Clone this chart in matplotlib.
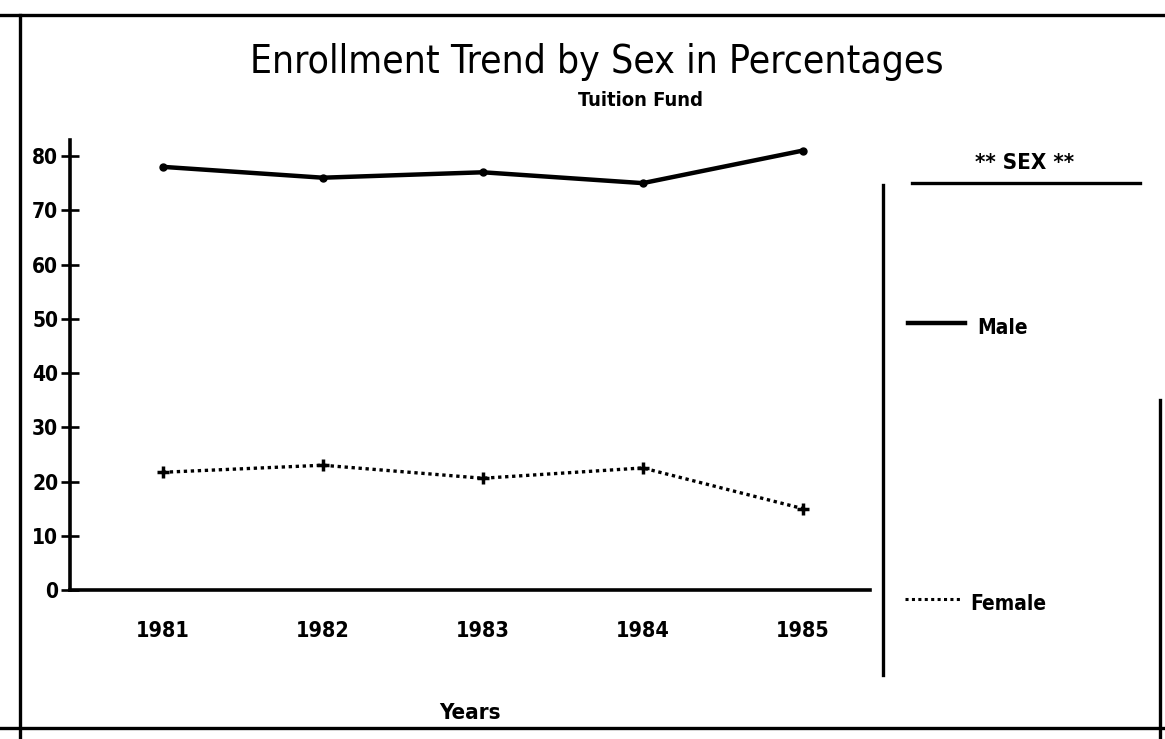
import matplotlib
matplotlib.use("Agg")
import matplotlib.pyplot as plt
from matplotlib.lines import Line2D
from matplotlib import font_manager

# ---- data ----
years = [1981, 1982, 1983, 1984, 1985]
male = [78.0, 76.0, 77.0, 75.0, 81.0]
female = [21.7, 23.0, 20.6, 22.5, 15.0]
y_ticks = [0, 10, 20, 30, 40, 50, 60, 70, 80]
title = "Enrollment Trend by Sex in Percentages"
subtitle = "Tuition Fund"
legend_title = "** SEX **"
series_names = ["Male", "Female"]
x_label = "Years"

names = {f.name for f in font_manager.fontManager.ttflist}
if "Liberation Sans Narrow" in names:
    FAM = "Liberation Sans Narrow"
    STRETCH = "normal"
else:
    FAM = "DejaVu Sans"
    STRETCH = "condensed"

W, H = 1165, 739
fig = plt.figure(figsize=(W / 100, H / 100), dpi=100)
fig.patch.set_facecolor("white")


def fx(px):
    return px / W


def fy(py):
    return 1 - py / H


ax = fig.add_axes([fx(70), fy(590), fx(870) - fx(70), fy(140) - fy(590)])
ax.set_xlim(1980.42, 1985.42)
ax.set_ylim(0, 82.95)

ax.plot(years, male, color="black", lw=3.2, solid_capstyle="round",
        marker="o", ms=5)
ax.plot(years, female, color="black", lw=2.4, linestyle=(0, (1, 1.1)),
        marker="+", ms=9, mew=2.5)

for s in ["top", "right"]:
    ax.spines[s].set_visible(False)
for s in ["left", "bottom"]:
    ax.spines[s].set_linewidth(2.6)

ax.set_yticks(y_ticks)
ax.set_yticklabels([str(v) for v in y_ticks], fontfamily=FAM,
                   fontstretch=STRETCH, fontweight="bold", fontsize=15)
ax.tick_params(axis="y", direction="inout", length=13, width=1.9, pad=2)
ax.set_xticks(years)
ax.set_xticklabels([str(y) for y in years], fontfamily=FAM,
                   fontstretch=STRETCH, fontweight="bold", fontsize=15.5)
ax.tick_params(axis="x", length=0, pad=22)
ax.set_xlabel(x_label, fontfamily=FAM, fontstretch=STRETCH,
              fontweight="bold", fontsize=16, labelpad=45)

# titles
fig.text(fx(597), fy(62), title, ha="center", va="center", fontfamily=FAM,
         fontstretch=STRETCH, fontsize=28)
fig.text(fx(640), fy(100), subtitle, ha="center", va="center",
         fontfamily=FAM, fontstretch=STRETCH, fontweight="bold", fontsize=14.5)

# legend (manual)
fig.text(fx(1025), fy(163), legend_title, ha="center", va="center",
         fontfamily=FAM, fontstretch=STRETCH, fontweight="bold", fontsize=16)
fig.add_artist(Line2D([fx(912), fx(1140)], [fy(183), fy(183)], color="black",
                      lw=2.4, transform=fig.transFigure))
fig.add_artist(Line2D([fx(908), fx(965)], [fy(323), fy(323)], color="black",
                      lw=3.2, transform=fig.transFigure))
fig.text(fx(977), fy(328), series_names[0], ha="left", va="center",
         fontfamily=FAM, fontstretch=STRETCH, fontweight="bold", fontsize=15)
fig.add_artist(Line2D([fx(905), fx(962)], [fy(599), fy(599)], color="black",
                      lw=2.2, linestyle=(0, (1, 1.1)),
                      transform=fig.transFigure))
fig.text(fx(970), fy(604), series_names[1], ha="left", va="center",
         fontfamily=FAM, fontstretch=STRETCH, fontweight="bold", fontsize=15)

# frame lines
frame = [
    ([0, 1165], [15, 15]),
    ([20, 20], [15, 739]),
    ([0, 1165], [728, 728]),
    ([1160, 1160], [400, 739]),
    ([883, 883], [185, 675]),
]
for xs, ys in frame:
    fig.add_artist(Line2D([fx(v) for v in xs], [fy(v) for v in ys],
                          color="black", lw=2.4, transform=fig.transFigure))

fig.savefig("out.png", dpi=100)
